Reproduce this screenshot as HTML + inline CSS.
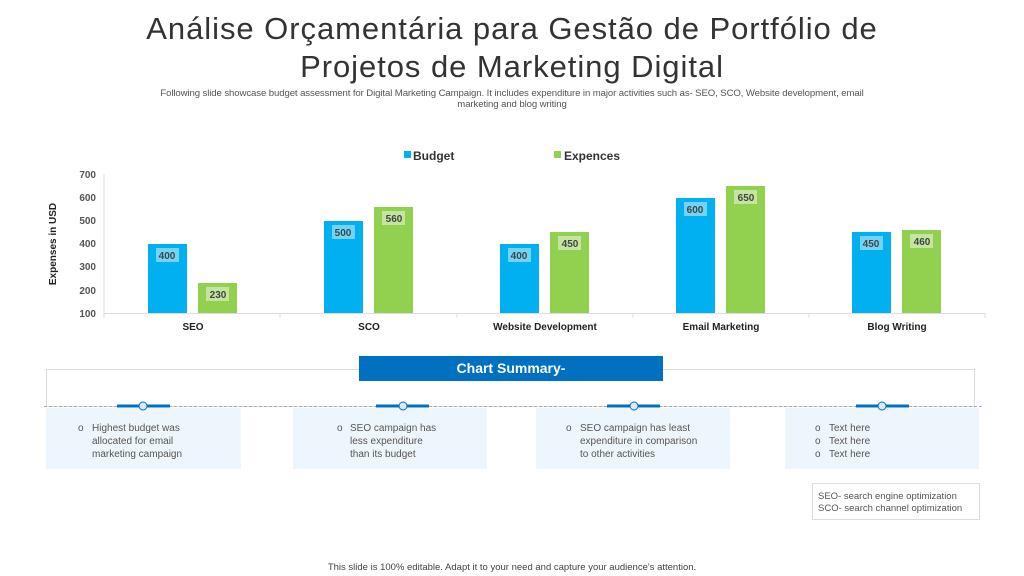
<!DOCTYPE html>
<html><head><meta charset="utf-8"><style>
body{margin:0;width:1024px;height:576px;background:#fff;font-family:"Liberation Sans",sans-serif;position:relative;overflow:hidden}
.a{position:absolute}
</style></head><body>
<div class="a" style="left:0;top:10px;width:1024px;text-align:center;font-size:31px;color:#333;line-height:38px;letter-spacing:0.95px">Análise Orçamentária para Gestão de Portfólio de<br>Projetos de Marketing Digital</div>
<div class="a" style="left:100px;top:88px;width:824px;text-align:center;font-size:9.6px;color:#555;line-height:11px;white-space:nowrap;letter-spacing:-0.1px">Following slide showcase budget assessment for Digital Marketing Campaign. It includes expenditure in major activities such as- SEO, SCO, Website development, email<br>marketing and blog writing</div>
<svg class="a" style="left:0;top:0" width="1024" height="576" font-family="Liberation Sans, sans-serif">
<rect x="404" y="151" width="7" height="7" fill="#00b0f0"/><text x="413" y="160" font-size="12" font-weight="bold" fill="#333">Budget</text>
<rect x="554" y="151" width="7" height="7" fill="#92d050"/><text x="564" y="160" font-size="12" font-weight="bold" fill="#333">Expences</text>
<text transform="translate(56,244) rotate(-90)" text-anchor="middle" font-size="10" font-weight="bold" fill="#222">Expenses in USD</text>
<g font-size="10" font-weight="bold" fill="#555" text-anchor="end">
<text x="96" y="178">700</text><text x="96" y="201">600</text><text x="96" y="224">500</text><text x="96" y="247">400</text><text x="96" y="270">300</text><text x="96" y="294">200</text><text x="96" y="317">100</text></g>
<line x1="104" y1="174" x2="104" y2="314" stroke="#ddd"/>
<line x1="104" y1="313.5" x2="985" y2="313.5" stroke="#ddd"/>
<g stroke="#ddd"><line x1="280" y1="313" x2="280" y2="318"/><line x1="457" y1="313" x2="457" y2="318"/><line x1="633" y1="313" x2="633" y2="318"/><line x1="809" y1="313" x2="809" y2="318"/><line x1="985" y1="313" x2="985" y2="318"/><line x1="104" y1="313" x2="104" y2="318"/></g>
<g font-size="10" font-weight="bold" fill="#222" text-anchor="middle">
<text x="193" y="330">SEO</text><text x="369" y="330">SCO</text><text x="545" y="330">Website Development</text><text x="721" y="330">Email Marketing</text><text x="897" y="330">Blog Writing</text></g>
<g>
<rect x="148" y="244" width="39" height="69" fill="#00b0f0"/><rect x="198" y="283" width="39" height="30" fill="#92d050"/>
<rect x="324" y="221" width="39" height="92" fill="#00b0f0"/><rect x="374" y="207" width="39" height="106" fill="#92d050"/>
<rect x="500" y="244" width="39" height="69" fill="#00b0f0"/><rect x="550" y="232" width="39" height="81" fill="#92d050"/>
<rect x="676" y="198" width="39" height="115" fill="#00b0f0"/><rect x="726" y="186" width="39" height="127" fill="#92d050"/>
<rect x="852" y="232" width="39" height="81" fill="#00b0f0"/><rect x="902" y="230" width="39" height="83" fill="#92d050"/>
</g>
<g font-size="10" font-weight="bold" fill="#444" text-anchor="middle">
<rect x="156" y="248" width="23" height="14" fill="#fff" opacity=".45"/><text x="167" y="259">400</text>
<rect x="206" y="287" width="23" height="14" fill="#fff" opacity=".45"/><text x="218" y="298">230</text>
<rect x="332" y="225" width="23" height="14" fill="#fff" opacity=".45"/><text x="343" y="236">500</text>
<rect x="382" y="211" width="23" height="14" fill="#fff" opacity=".45"/><text x="394" y="222">560</text>
<rect x="508" y="248" width="23" height="14" fill="#fff" opacity=".45"/><text x="519" y="259">400</text>
<rect x="558" y="236" width="23" height="14" fill="#fff" opacity=".45"/><text x="570" y="247">450</text>
<rect x="684" y="202" width="23" height="14" fill="#fff" opacity=".45"/><text x="695" y="213">600</text>
<rect x="734" y="190" width="23" height="14" fill="#fff" opacity=".45"/><text x="746" y="201">650</text>
<rect x="860" y="236" width="23" height="14" fill="#fff" opacity=".45"/><text x="871" y="247">450</text>
<rect x="910" y="234" width="23" height="14" fill="#fff" opacity=".45"/><text x="922" y="245">460</text>
</g>
<rect x="46.5" y="369.5" width="928" height="37" fill="none" stroke="#ddd"/>
<line x1="44" y1="406.5" x2="982" y2="406.5" stroke="#aaa" stroke-dasharray="3,2"/>
<rect x="359" y="356" width="304" height="25" fill="#0070c0"/>
<text x="511" y="373" text-anchor="middle" font-size="14" font-weight="bold" fill="#fff">Chart Summary-</text>
<g fill="#eef6fd"><rect x="46" y="408" width="195" height="61"/><rect x="293" y="408" width="194" height="61"/><rect x="536" y="408" width="194" height="61"/><rect x="785" y="408" width="194" height="61"/></g>
<g stroke="#0070c0" stroke-width="3"><line x1="117" y1="406" x2="170" y2="406"/><line x1="376" y1="406" x2="429" y2="406"/><line x1="607" y1="406" x2="660" y2="406"/><line x1="856" y1="406" x2="909" y2="406"/></g>
<g fill="#dce8f3" stroke="#0070c0"><circle cx="143" cy="406" r="4"/><circle cx="403" cy="406" r="4"/><circle cx="634" cy="406" r="4"/><circle cx="882" cy="406" r="4"/></g>
<g font-size="10" fill="#555">
<text x="78" y="431">o</text><text x="92" y="431">Highest budget was</text><text x="92" y="444">allocated for email</text><text x="92" y="457">marketing campaign</text>
<text x="337" y="431">o</text><text x="350" y="431">SEO campaign has</text><text x="350" y="444">less expenditure</text><text x="350" y="457">than its budget</text>
<text x="566" y="431">o</text><text x="580" y="431">SEO campaign has least</text><text x="580" y="444">expenditure  in comparison</text><text x="580" y="457">to other activities</text>
<text x="815" y="431">o</text><text x="829" y="431">Text here</text><text x="815" y="444">o</text><text x="829" y="444">Text here</text><text x="815" y="457">o</text><text x="829" y="457">Text here</text>
</g>
<rect x="812.5" y="483.5" width="167" height="36" fill="#fff" stroke="#ddd"/>
<text x="818" y="499" font-size="9.5" fill="#555">SEO- search engine optimization</text>
<text x="818" y="511" font-size="9.5" fill="#555">SCO- search channel optimization</text>
<text x="512" y="570" text-anchor="middle" font-size="9.5" fill="#444">This slide is 100% editable. Adapt it to your need and capture your audience's attention.</text>
</svg>
</body></html>
